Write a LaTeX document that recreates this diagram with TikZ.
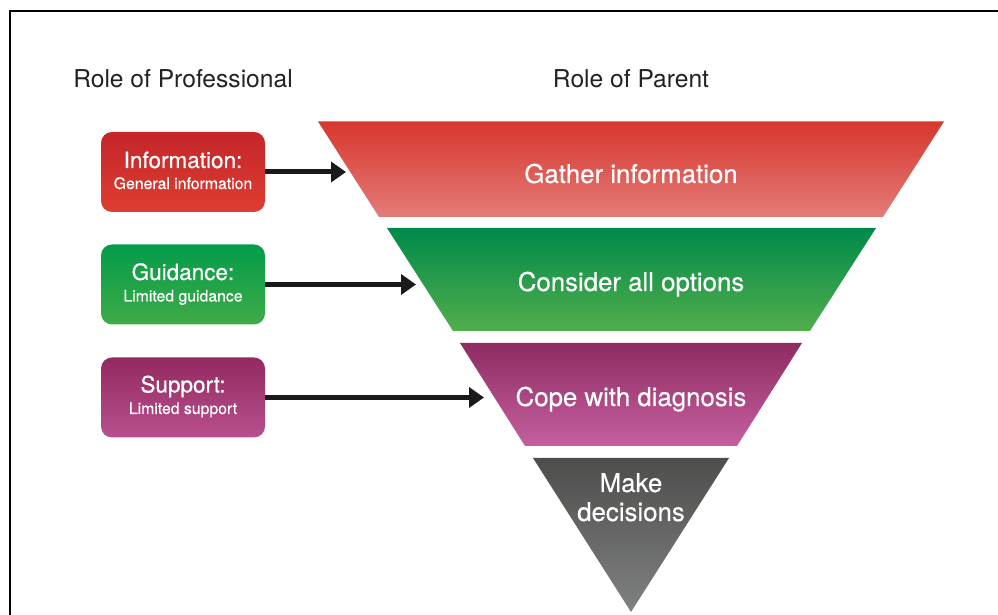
\documentclass[tikz,border=0pt]{standalone}
\usepackage{fontspec}
\setmainfont{TeX Gyre Heros}
\newfontfamily\medfont[FakeBold=0.5]{TeX Gyre Heros}
\usetikzlibrary{arrows.meta,calc}
\definecolor{headc}{HTML}{222222}
\definecolor{redT}{HTML}{D7372E}
\definecolor{redB}{HTML}{E47B78}
\definecolor{redbT}{HTML}{C4252A}
\definecolor{redbB}{HTML}{DE3E30}
\definecolor{grnT}{HTML}{00894A}
\definecolor{grnM}{HTML}{00A24A}
\definecolor{grnB}{HTML}{52AE4C}
\definecolor{grnbT}{HTML}{039C4A}
\definecolor{grnbB}{HTML}{3FAB47}
\definecolor{magT}{HTML}{8E2B62}
\definecolor{magB}{HTML}{C5609F}
\definecolor{magbT}{HTML}{93295F}
\definecolor{magbB}{HTML}{B7508F}
\definecolor{gryT}{HTML}{4D4E4C}
\definecolor{gryB}{HTML}{808281}
\definecolor{arrc}{HTML}{1A1A1A}
\tikzset{
  rolebox/.style={rounded corners=11bp, minimum width=164bp, minimum height=80bp, inner sep=0pt},
  boxtitle/.style={anchor=base, text=white, font=\medfont\fontsize{22.5bp}{27bp}\selectfont, inner sep=0pt},
  boxsub/.style={anchor=base, text=white, font=\medfont\fontsize{15.8bp}{19bp}\selectfont, inner sep=0pt},
  mainlabel/.style={anchor=base, text=white, font=\medfont\fontsize{25.8bp}{30bp}\selectfont, inner sep=0pt},
  heading/.style={anchor=base, text=headc, font=\fontsize{24.6bp}{29bp}\selectfont, inner sep=0pt},
  connector/.style={draw=arrc, line width=5bp, -{Triangle[length=15bp,width=20bp]}},
  frameline/.style={line width=2.5bp, black}
}
\begin{document}
\begin{tikzpicture}[x=1bp,y=1bp]
\useasboundingbox (0,0) rectangle (998,615);
% frame
\draw[frameline] (10,-2) -- (10,604) -- (1002,604);
% headings
\node[heading] (hprof) at (183,527) {Role of Professional};
\node[heading] (hpar) at (631,527) {Role of Parent};
% funnel
\shade[top color=redT, bottom color=redB] (318,493.5) -- (944,493.5) -- (883,398) -- (379,398) -- cycle;
\shade[top color=grnT, middle color=grnM, bottom color=grnB] (387,387) -- (876,387) -- (810,284) -- (453,284) -- cycle;
\shade[top color=magT, bottom color=magB] (460,272) -- (802,272) -- (737,169) -- (525,169) -- cycle;
\shade[top color=gryT, bottom color=gryB] (533,157) -- (729,157) -- (631,3) -- cycle;
\node[mainlabel] (gather) at (631,432) {Gather information};
\node[mainlabel] (consider) at (631,324) {Consider all options};
\node[mainlabel] (cope) at (631,209) {Cope with diagnosis};
\node[mainlabel] (make) at (631,123) {Make};
\node[mainlabel] (decide) at (631,94) {decisions};
% boxes
\node[rolebox, top color=redbT, bottom color=redbB] (info) at (183,443) {};
\node[boxtitle] (infot) at (183,447) {Information:};
\node[boxsub] (infos) at (183,426) {General information};
\node[rolebox, top color=grnbT, bottom color=grnbB] (guid) at (183,330.5) {};
\node[boxtitle] (guidt) at (183,335) {Guidance:};
\node[boxsub] (guids) at (183,313.5) {Limited guidance};
\node[rolebox, top color=magbT, bottom color=magbB] (supp) at (183,217.5) {};
\node[boxtitle] (suppt) at (183,222.5) {Support:};
\node[boxsub] (supps) at (183,201) {Limited support};
% arrow targets
\coordinate (redin) at (346,443);
\coordinate (grnin) at (416,330.5);
\coordinate (magin) at (484,217.5);
\draw[connector] (info.east) -- (redin);
\draw[connector] (guid.east) -- (grnin);
\draw[connector] (supp.east) -- (magin);
\end{tikzpicture}
\end{document}
